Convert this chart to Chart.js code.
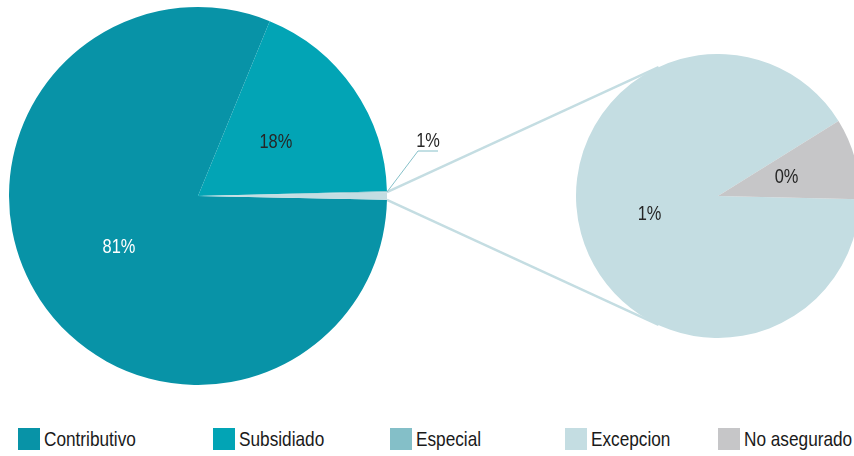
<!DOCTYPE html>
<html>
<head>
<meta charset="utf-8">
<script src="https://cdn.jsdelivr.net/npm/chart.js@4.4.1/dist/chart.umd.min.js"></script>
<style>
  html, body { margin: 0; padding: 0; background: #fff; overflow: hidden; }
  body { width: 854px; height: 456px; position: relative; font-family: 'Liberation Sans', Arial, sans-serif; }
  #mainPie { position: absolute; left: 0; top: 0; }
  #subPie { position: absolute; left: 576px; top: 54px; z-index: 2; }
  .legend-item { position: absolute; top: 428px; height: 22px; display: flex; align-items: center; font-size: 21px; color: #1a1a1a; white-space: nowrap; }
  .legend-item .box { width: 22px; height: 22px; display: inline-block; margin-right: 4px; flex: none; }
  .legend-item .txt { display: inline-block; transform: scaleX(0.82); transform-origin: left center; }
</style>
</head>
<body>
<canvas id="mainPie" width="854" height="400"></canvas>
<canvas id="subPie" width="284" height="284"></canvas>
<div id="legend"></div>

<script>
// Datos del gráfico
const categories = ['Contributivo', 'Subsidiado', 'Especial', 'Excepcion', 'No asegurado'];
const values = [80.87, 18.4, 0.08, 0.59, 0.06];
const colors = ['#0893a7', '#02a4b5', '#84bfc8', '#c4dde2', '#c6c6c8'];

// las dos últimas categorías van en el segundo pastel
const splitAt = 3;
const legendX = [18, 213, 390, 565, 718];

const FONT = "'Liberation Sans', Arial, sans-serif";
const NARROW = 0.82; // simula una fuente condensada
const total = values.reduce((a, b) => a + b, 0);
const pct = v => Math.round(v / total * 100) + '%';

const mainValues = values.slice(0, splitAt);
const subValues = values.slice(splitAt);
const otherValue = subValues.reduce((a, b) => a + b, 0);
mainValues.push(otherValue);
const mainColors = colors.slice(0, splitAt).concat([colors[3]]);

// rotación: el sector "otros" centrado a la derecha
const otherDeg = otherValue / total * 360;
const mainRotation = 90 + otherDeg / 2;
const subRotation = 91.3;

function narrowText(ctx, text, x, y) {
    ctx.save();
    ctx.translate(x, y);
    ctx.scale(NARROW, 1);
    ctx.fillText(text, 0, 0);
    ctx.restore();
}

// Etiquetas de datos
const labelsPlugin = {
    id: 'pieLabels',
    afterDatasetsDraw(chart, args, opts) {
        const ctx = chart.ctx;
        const meta = chart.getDatasetMeta(0);
        const data = chart.data.datasets[0].data;
        ctx.save();
        ctx.font = '20px ' + FONT;
        ctx.textAlign = 'center';
        ctx.textBaseline = 'middle';
        meta.data.forEach((arc, i) => {
            const kind = opts.kinds[i];
            if (kind === 'none') return;
            const text = pct(data[i]);
            if (kind === 'leader') {
                const mid = (arc.startAngle + arc.endAngle) / 2;
                const sx = arc.x + Math.cos(mid) * arc.outerRadius;
                const sy = arc.y + Math.sin(mid) * arc.outerRadius - 4;
                const ex = sx + 31, ey = sy - 41;
                ctx.strokeStyle = '#86c0c9';
                ctx.lineWidth = 1;
                ctx.beginPath();
                ctx.moveTo(sx, sy);
                ctx.lineTo(ex, ey);
                ctx.lineTo(ex + 20, ey);
                ctx.stroke();
                ctx.fillStyle = '#262626';
                narrowText(ctx, text, ex + 10, ey - 10);
                return;
            }
            const p = arc.tooltipPosition();
            ctx.fillStyle = kind === 'light' ? '#ffffff' : '#262626';
            narrowText(ctx, text, p.x, p.y);
        });
        ctx.restore();
    }
};

// Segundo pastel (desglose)
const subChart = new Chart(document.getElementById('subPie'), {
    type: 'pie',
    data: {
        labels: categories.slice(splitAt),
        datasets: [{
            data: subValues,
            backgroundColor: colors.slice(splitAt),
            borderWidth: 0,
            hoverOffset: 0
        }]
    },
    options: {
        responsive: false,
        animation: false,
        events: [],
        rotation: subRotation,
        layout: { padding: 0 },
        plugins: {
            legend: { display: false },
            tooltip: { enabled: false },
            pieLabels: { kinds: ['dark', 'dark'] }
        }
    },
    plugins: [labelsPlugin]
});

// Líneas de conexión entre los dos pasteles
const connectorPlugin = {
    id: 'connectors',
    beforeDatasetsDraw(chart) {
        const ctx = chart.ctx;
        const meta = chart.getDatasetMeta(0);
        const other = meta.data[meta.data.length - 1];
        const subArc = subChart.getDatasetMeta(0).data[0];
        const cx = subArc.x + subChart.canvas.offsetLeft;
        const cy = subArc.y + subChart.canvas.offsetTop;
        const r = subArc.outerRadius;
        const corners = [other.startAngle, other.endAngle].map(a => ({
            x: other.x + Math.cos(a) * other.outerRadius,
            y: other.y + Math.sin(a) * other.outerRadius
        }));
        ctx.save();
        ctx.strokeStyle = '#c4dde2';
        ctx.lineWidth = 2.5;
        corners.forEach((p, k) => {
            const dx = p.x - cx, dy = p.y - cy;
            const d = Math.sqrt(dx * dx + dy * dy);
            const base = Math.atan2(dy, dx);
            const t = Math.acos(r / d);
            const ang = k === 0 ? base + t : base - t;
            ctx.beginPath();
            ctx.moveTo(p.x, p.y);
            ctx.lineTo(cx + Math.cos(ang) * r, cy + Math.sin(ang) * r);
            ctx.stroke();
        });
        ctx.restore();
    }
};

// Pastel principal
new Chart(document.getElementById('mainPie'), {
    type: 'pie',
    data: {
        labels: categories.slice(0, splitAt).concat(['Otros']),
        datasets: [{
            data: mainValues,
            backgroundColor: mainColors,
            borderWidth: 0,
            hoverOffset: 0
        }]
    },
    options: {
        responsive: false,
        animation: false,
        events: [],
        rotation: mainRotation,
        layout: { padding: { left: 9, top: 7, right: 467, bottom: 15 } },
        plugins: {
            legend: { display: false },
            tooltip: { enabled: false },
            pieLabels: { kinds: ['light', 'dark', 'none', 'leader'] }
        }
    },
    plugins: [connectorPlugin, labelsPlugin]
});

// Leyenda
const legend = document.getElementById('legend');
categories.forEach((name, i) => {
    const item = document.createElement('div');
    item.className = 'legend-item';
    item.style.left = legendX[i] + 'px';
    item.innerHTML = `<span class="box" style="background:${colors[i]}"></span><span class="txt">${name}</span>`;
    legend.appendChild(item);
});
</script>
</body>
</html>
